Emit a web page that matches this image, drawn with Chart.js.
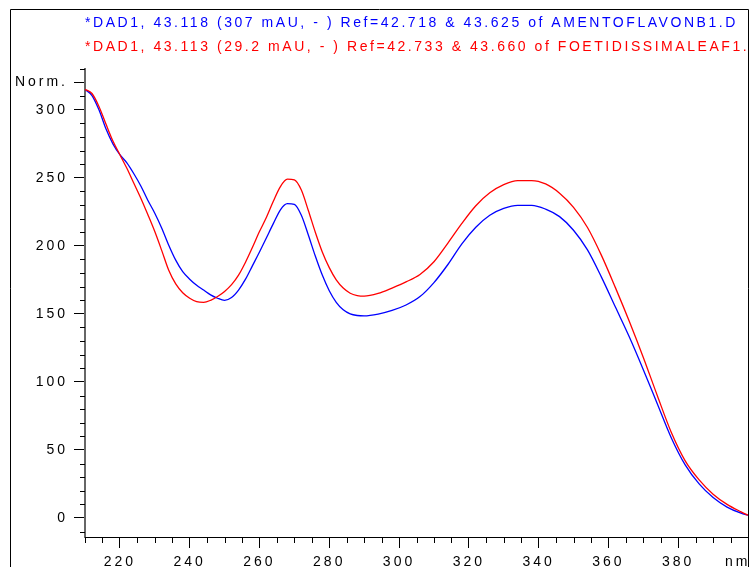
<!DOCTYPE html>
<html>
<head>
<meta charset="utf-8">
<script src="https://cdn.jsdelivr.net/npm/chart.js@4/dist/chart.umd.min.js"></script>
<style>
  html, body { margin: 0; padding: 0; background: #fff; }
  canvas { display: block; }
</style>
</head>
<body>
<canvas id="espectro" width="749" height="567"></canvas>
<script>
// longitudes de onda (nm)
const longitudes = [210, 212, 214, 216, 218, 220, 222, 224, 226, 228, 230, 232, 234, 236, 238, 240,
  242, 244, 246, 248, 250, 252, 254, 256, 258, 260, 262, 264, 266, 268, 270, 272, 274, 276, 278, 280,
  282, 284, 286, 288, 290, 294, 298, 302, 306, 310, 314, 318, 322, 326, 330, 334, 338, 342, 346, 350,
  354, 358, 362, 366, 370, 374, 378, 382, 386, 390, 394, 398, 400];

// AMENTOFLAVONB1.D (azul)
const amentoflavona = [315, 310.5, 300, 286, 275, 267, 261, 253, 244, 233.5, 224, 213, 200.5, 189.5, 181, 175.5,
  171, 167.5, 164, 161.5, 160, 162, 167.5, 175.5, 185.5, 195.5, 206, 216.5, 226.5, 231, 230.5, 222.5, 208, 192.5, 178.5, 167,
  158.5, 153, 150, 148.8, 148.5, 149.8, 152.5, 156.5, 162.7, 173, 186.3, 201.5, 213.7, 222.5, 227.5, 229.8, 229.8, 227, 221.5, 211.5,
  197, 177, 155, 133, 109, 84, 59, 39, 25, 15, 8, 3.5, 2];

// FOETIDISSIMALEAF1.D (rojo)
const foetidissima = [315, 312, 302.5, 289.5, 277, 267, 257, 246, 235, 223, 210.5, 196.5, 182, 172, 165.5, 161.5,
  159, 158.5, 160, 162.8, 166.5, 171.5, 178.5, 188, 199, 210.5, 221, 233, 243.6, 249, 248.5, 241, 226, 210, 195.5, 184,
  175, 169, 165.2, 163.5, 163, 165, 169, 173.5, 179, 188.3, 202, 216.5, 229.5, 239, 245, 248, 248, 245.5, 238.7, 228.3,
  213.5, 193, 169.3, 144.4, 118, 90, 63, 42, 28, 17.5, 10, 4.5, 2];

const ticksX = [220, 240, 260, 280, 300, 320, 340, 360, 380];
const ticksY = [0, 50, 100, 150, 200, 250, 300, 320];

const titulos = [
  { texto: '*DAD1, 43.118 (307 mAU, - ) Ref=42.718 & 43.625 of AMENTOFLAVONB1.D', color: '#0000ff' },
  { texto: '*DAD1, 43.113 (29.2 mAU, - ) Ref=42.733 & 43.660 of FOETIDISSIMALEAF1.D', color: '#ff0000' }
];

const fuente = '"Liberation Sans", Arial, sans-serif';

// marco, titulos y marcas menores
const marco = {
  id: 'marco',
  beforeDraw(chart) {
    chart.ctx.letterSpacing = '3px';
  },
  afterDraw(chart) {
    const ctx = chart.ctx;
    const sx = chart.scales.x;
    const sy = chart.scales.y;
    const area = chart.chartArea;
    ctx.save();

    ctx.strokeStyle = '#000';
    ctx.lineWidth = 1;
    ctx.beginPath();
    ctx.moveTo(10.5, 567);
    ctx.lineTo(10.5, 9.5);
    ctx.lineTo(748.5, 9.5);
    ctx.lineTo(748.5, 567);
    ctx.stroke();

    ctx.font = '14px ' + fuente;
    ctx.letterSpacing = '2.55px';
    ctx.textAlign = 'left';
    ctx.textBaseline = 'alphabetic';
    titulos.forEach((t, i) => {
      ctx.fillStyle = t.color;
      ctx.fillText(t.texto, 85, 27 + i * 24);
    });

    // marcas menores
    ctx.beginPath();
    for (let v = 210; v <= 400; v += 5) {
      const px = Math.round(sx.getPixelForValue(v)) + 0.5;
      const largo = (v % 20 === 0) ? 11 : 6;
      if (ticksX.includes(v)) continue;
      ctx.moveTo(px, area.bottom);
      ctx.lineTo(px, area.bottom + largo);
    }
    for (let v = -10; v <= 330; v += 10) {
      if (ticksY.includes(v)) continue;
      const py = Math.round(sy.getPixelForValue(v)) + 0.5;
      ctx.moveTo(area.left, py);
      ctx.lineTo(area.left - 5, py);
    }
    ctx.stroke();

    ctx.fillStyle = '#000';
    ctx.font = '14px ' + fuente;
    ctx.letterSpacing = '3px';
    ctx.textBaseline = 'top';
    ctx.fillText('nm', 725, 555);
    ctx.restore();
  }
};

new Chart(document.getElementById('espectro'), {
  type: 'line',
  data: {
    datasets: [
      {
        label: 'AMENTOFLAVONB1.D',
        data: longitudes.map((x, i) => ({ x, y: amentoflavona[i] })),
        borderColor: '#0000ff',
        order: 1
      },
      {
        label: 'FOETIDISSIMALEAF1.D',
        data: longitudes.map((x, i) => ({ x, y: foetidissima[i] })),
        borderColor: '#ff0000',
        order: 0
      }
    ]
  },
  options: {
    responsive: false,
    animation: false,
    layout: { padding: { top: 69, right: 1, left: 0, bottom: 0 } },
    elements: {
      point: { radius: 0 },
      line: { borderWidth: 1.3, cubicInterpolationMode: 'monotone', fill: false }
    },
    plugins: {
      legend: { display: false },
      tooltip: { enabled: false }
    },
    scales: {
      x: {
        type: 'linear',
        min: 210,
        max: 400,
        afterBuildTicks: s => { s.ticks = ticksX.map(v => ({ value: v })); },
        afterFit: s => { s.height = 30; },
        grid: { drawOnChartArea: false, drawTicks: true, tickLength: 11, tickColor: '#000', tickWidth: 1 },
        border: { color: '#000', width: 1 },
        ticks: { color: '#000', font: { family: fuente, size: 14 }, padding: 6, maxRotation: 0, autoSkip: false }
      },
      y: {
        type: 'linear',
        min: -14,
        max: 330,
        afterBuildTicks: s => { s.ticks = ticksY.map(v => ({ value: v })); },
        afterFit: s => { s.width = 85; },
        grid: { drawOnChartArea: false, drawTicks: true, tickLength: 11, tickColor: '#000', tickWidth: 1 },
        border: { color: '#666', width: 2 },
        ticks: {
          color: '#000',
          font: { family: fuente, size: 14 },
          padding: 6,
          callback: v => v === 320 ? 'Norm.' : v
        }
      }
    }
  },
  plugins: [marco]
});
</script>
</body>
</html>
